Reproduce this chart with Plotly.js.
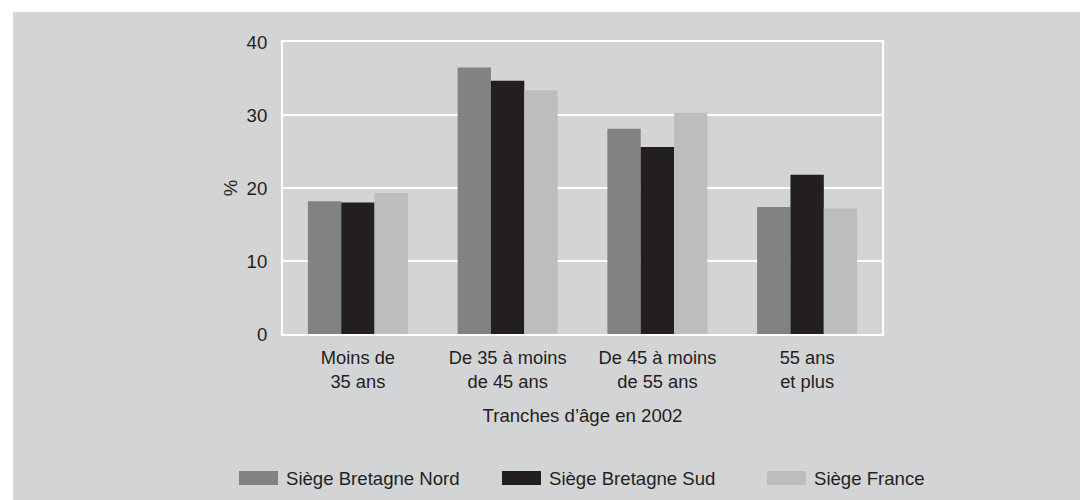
<!DOCTYPE html>
<html>
<head>
<meta charset="utf-8">
<script src="https://cdn.plot.ly/plotly-3.0.1.min.js"></script>
<style>
  html, body { margin: 0; padding: 0; background: #ffffff; }
  #chart { position: absolute; left: 13px; top: 12px; width: 1067px; height: 488px; }
</style>
</head>
<body>
<div id="chart"></div>
<script>
// ---- Data ----
const categories = ["Moins de<br>35 ans", "De 35 à moins<br>de 45 ans", "De 45 à moins<br>de 55 ans", "55 ans<br>et plus"];
const seriesNames = ["Siège Bretagne Nord", "Siège Bretagne Sud", "Siège France"];
const nord = [18.2, 36.5, 28.1, 17.4];
const sud = [18.0, 34.7, 25.6, 21.8];
const france = [19.3, 33.4, 30.3, 17.2];
const yTicks = [0, 10, 20, 30, 40];

// ---- Style ----
const colors = ["#818284", "#231f20", "#bcbdbf"];
const bg = "#d3d4d6";
const txt = "#231f20";
const fontFam = "Liberation Sans, Arial, sans-serif";

const values = [nord, sud, france];
const traces = values.map((v, i) => ({
  type: "bar",
  x: categories,
  y: v,
  name: seriesNames[i],
  marker: { color: colors[i], line: { width: 0 } },
  hoverinfo: "y+name"
}));

// plot area in page px: left 283, right 882, top 42, bottom 334
const PL = 283, PR = 882, PT = 42, PB = 334;
const px = X => (X - PL) / (PR - PL);
const py = Y => (PB - Y) / (PB - PT);

const legendItems = [
  { sx0: 239, sx1: 278, tx: 284 },
  { sx0: 502, sx1: 541, tx: 547 },
  { sx0: 767, sx1: 806, tx: 812 }
];
const shapes = legendItems.map((it, i) => ({
  type: "rect", xref: "paper", yref: "paper",
  x0: px(it.sx0), x1: px(it.sx1), y0: py(471), y1: py(485),
  fillcolor: colors[i], line: { width: 0 }
}));
const annotations = legendItems.map((it, i) => ({
  xref: "paper", yref: "paper", x: px(it.tx), y: py(478),
  xanchor: "left", yanchor: "middle", showarrow: false,
  text: seriesNames[i], font: { family: fontFam, size: 18.6, color: txt }
}));

const layout = {
  width: 1067, height: 488,
  margin: { l: 270, r: 198, t: 30, b: 166, pad: 0 },
  paper_bgcolor: bg, plot_bgcolor: bg,
  barmode: "group", bargap: 0.332, bargroupgap: 0,
  showlegend: false,
  font: { family: fontFam, size: 18, color: txt },
  xaxis: {
    type: "category",
    showline: true, mirror: true, linecolor: "#ffffff", linewidth: 2,
    showgrid: false, ticks: "", ticklabelstandoff: 6,
    tickfont: { family: fontFam, size: 18.3, color: txt },
    title: { text: "Tranches d’âge en 2002", font: { family: fontFam, size: 18.6, color: txt }, standoff: 18 },
    automargin: false
  },
  yaxis: {
    range: [0, 40],
    tickvals: yTicks,
    showline: true, mirror: true, linecolor: "#ffffff", linewidth: 2,
    showgrid: true, gridcolor: "#ffffff", gridwidth: 1.5,
    zeroline: false, ticks: "", ticklabelstandoff: 10,
    tickfont: { family: fontFam, size: 18.6, color: txt },
    title: { text: "%", font: { family: fontFam, size: 18.6, color: txt }, standoff: 4 },
    automargin: false
  },
  shapes: shapes,
  annotations: annotations
};

Plotly.newPlot("chart", traces, layout, { displayModeBar: false, staticPlot: true });
</script>
</body>
</html>
